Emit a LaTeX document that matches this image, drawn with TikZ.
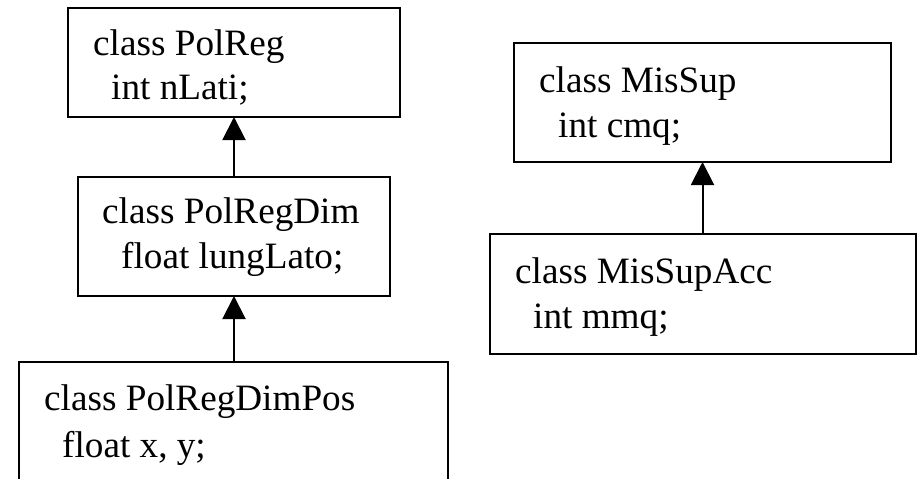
\documentclass[tikz,border=0pt]{standalone}
\usepackage{fontspec}
\setmainfont{Liberation Serif}
\usetikzlibrary{arrows.meta}
\begin{document}
\begin{tikzpicture}[x=1pt,y=-1pt,
  classbox/.style={draw=black, line width=2pt, inner sep=0pt, outer sep=0pt, rectangle},
  label/.style={anchor=base west, inner sep=0pt, font=\fontsize{37.2}{44}\selectfont},
  inherit/.style={line width=2pt, -{Triangle[length=23pt,width=23pt]}}]
  \useasboundingbox (0,0) rectangle (918,479);
  % class boxes
  \node[classbox, minimum width=332pt, minimum height=109pt] (polreg) at (234,62.5) {};
  \node[classbox, minimum width=312pt, minimum height=119pt] (polregdim) at (234,236.5) {};
  \node[classbox, minimum width=429pt, minimum height=138pt] (polregdimpos) at (233.5,431) {};
  \node[classbox, minimum width=377pt, minimum height=119pt] (missup) at (702.5,102.5) {};
  \node[classbox, minimum width=426pt, minimum height=120pt] (missupacc) at (703,294) {};
  % class contents
  \node[label] (polregA) at (93,55) {class PolReg};
  \node[label] (polregB) at (111,99) {int nLati;};
  \node[label] (polregdimA) at (102,223) {class PolRegDim};
  \node[label] (polregdimB) at (121,268) {float lungLato;};
  \node[label] (polregdimposA) at (44,410) {class PolRegDimPos};
  \node[label] (polregdimposB) at (62,457) {float x, y;};
  \node[label] (missupA) at (539,92) {class MisSup};
  \node[label] (missupB) at (558,137) {int cmq;};
  \node[label] (missupaccA) at (515,283) {class MisSupAcc};
  \node[label] (missupaccB) at (533,328) {int mmq;};
  % inheritance arrows, kept vertical
  \draw[inherit] (polregdim.north) -- (polreg.south -| polregdim.north);
  \draw[inherit] (polregdimpos.north -| polregdim.south) -- (polregdim.south);
  \draw[inherit] (missupacc.north -| missup.south) -- (missup.south);
\end{tikzpicture}
\end{document}
